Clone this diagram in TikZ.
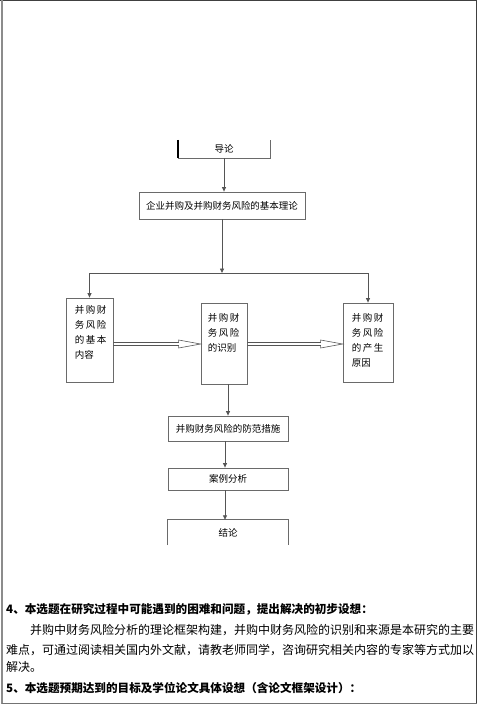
\documentclass[tikz,border=0pt]{standalone}
\usepackage{fontspec}
\setmainfont{Noto Sans CJK SC}
\usetikzlibrary{arrows.meta,calc}
\definecolor{linegray}{HTML}{555555}
\definecolor{boxgray}{HTML}{6A6A6A}
\begin{document}
\begin{tikzpicture}[x=1pt,y=-1pt,
  box/.style={draw=boxgray,line width=0.8pt,inner sep=0pt,font=\fontsize{9.5}{11}\selectfont},
  openbox/.style={inner sep=0pt,font=\fontsize{9.5}{11}\selectfont},
  conn/.style={draw=linegray,line width=0.8pt,-{Triangle[length=4.5pt,width=4pt]}},
  plainconn/.style={draw=linegray,line width=0.8pt},
  dbl/.style={draw=linegray,line width=0.6pt,line join=miter},
  tall/.style={anchor=north west,align=left,inner sep=0pt,font=\fontsize{9.5}{15}\selectfont},
  body/.style={anchor=west,inner sep=0pt,font=\fontsize{12}{14}\selectfont},
  head/.style={anchor=west,inner sep=0pt,font=\fontsize{11.6}{14}\selectfont\bfseries}]
\useasboundingbox (0,0) rectangle (479,705);
\fill[white] (0,0) rectangle (479,705);
% outer frame
\draw[color=black!75,line width=1pt] (0,0.6) -- (477,0.6);
\draw[color=black!45,line width=2pt] (1.5,0) -- (1.5,704);
\draw[color=black!75,line width=1pt] (476.5,0) -- (476.5,704);
\draw[color=black!55,line width=1pt] (1.5,703.5) -- (476.5,703.5);
% boxes
\node[openbox,minimum width=92pt,minimum height=18pt] (intro) at (224,149) {导论};
\draw[black,line width=1.5pt] (intro.north west) -- (intro.south west);
\draw[boxgray,line width=0.8pt] (intro.south west) -- (intro.south east) -- (intro.north east);
\node[box,minimum width=166pt,minimum height=27pt] (theory) at (222,205.5) {企业并购及并购财务风险的基本理论};
\node[box,minimum width=47pt,minimum height=84pt] (left) at (89.5,340) {};
\node[box,minimum width=46pt,minimum height=81pt] (mid) at (224,343.5) {};
\node[box,minimum width=50pt,minimum height=79pt] (right) at (368,342.5) {};
\node[tall] (lefttext) at ($(left.north west)+(9,8)$) {并\,购\,财\\务\,风\,险\\的\,基\,本\\内容};
\node[tall] (midtext) at ($(mid.north west)+(7,11)$) {并\,购\,财\\务\,风\,险\\的识别};
\node[tall] (righttext) at ($(right.north west)+(9,11)$) {并\,购\,财\\务\,风\,险\\的\,产\,生\\原因};
\node[box,minimum width=120pt,minimum height=25pt] (prevent) at (228,428.5) {并购财务风险的防范措施};
\node[box,minimum width=120pt,minimum height=22pt] (case) at (228,479) {案例分析};
\node[openbox,minimum width=120pt,minimum height=25pt] (concl) at (228,532.5) {结论};
\draw[boxgray,line width=0.8pt] (concl.south west) -- (concl.north west) -- (concl.north east) -- (concl.south east);
% connectors
\draw[conn] (intro.south) -- (intro.south |- theory.north);
\coordinate (j) at (222,273);
\draw[conn] (theory.south) -- (j);
\draw[conn] (j) -| (left.north);
\draw[conn] (j) -| (right.north);
\draw[conn] (prevent.north |- mid.south) -- (prevent.north);
\draw[conn] ($(prevent.south)+(-3,0)$) -- ($(case.north)+(-3,0)$);
\draw[conn] ($(case.south)+(-3,0)$) -- ($(concl.north)+(-3,0)$);
% double arrows
\draw[dbl] (left.east |- 0,342.5) -- ($(mid.west |- 0,342.5)+(-22,0)$) -- ($(mid.west |- 0,340)+(-22,0)$) -- (mid.west |- 0,344) -- ($(mid.west |- 0,348)+(-22,0)$) -- ($(mid.west |- 0,345.5)+(-22,0)$) -- (left.east |- 0,345.5);
\draw[dbl] (mid.east |- 0,342.5) -- ($(right.west |- 0,342.5)+(-22,0)$) -- ($(right.west |- 0,340)+(-22,0)$) -- (right.west |- 0,344) -- ($(right.west |- 0,348)+(-22,0)$) -- ($(right.west |- 0,345.5)+(-22,0)$) -- (mid.east |- 0,345.5);
% text section
\node[head] (h4) at (6,609) {4、本选题在研究过程中可能遇到的困难和问题，提出解决的初步设想：};
\node[body] (p1) at (30,630) {并购中财务风险分析的理论框架构建，并购中财务风险的识别和来源是本研究的主要};
\node[body] (p2) at (6,650) {难点，可通过阅读相关国内外文献，请教老师同学，咨询研究相关内容的专家等方式加以};
\node[body] (p3) at (6,667) {解决。};
\node[head] (h5) at (6,688) {5、本选题预期达到的目标及学位论文具体设想（含论文框架设计）：};
\end{tikzpicture}
\end{document}
